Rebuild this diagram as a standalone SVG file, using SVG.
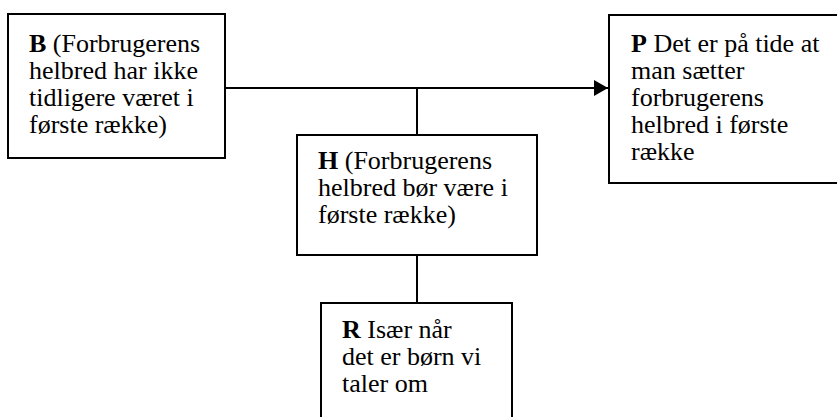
<svg xmlns="http://www.w3.org/2000/svg" width="837" height="417" viewBox="0 0 837 417">
<style>
.box{fill:#fff;stroke:#000;stroke-width:2}
.t{font-family:"Liberation Serif","Times New Roman",serif;font-size:26px;fill:#000}
.b{font-weight:bold}
.c{stroke:#000;stroke-width:2;fill:none}
</style>
<defs>
<marker id="arr" markerWidth="14" markerHeight="16" refX="14" refY="8" orient="auto" markerUnits="userSpaceOnUse">
<path d="M0,0 L14,8 L0,16 Z" fill="#000"/>
</marker>
</defs>
<rect width="837" height="417" fill="#fff"/>
<g id="connectors">
<line class="c" x1="225" y1="88" x2="608" y2="88" marker-end="url(#arr)"/>
<line class="c" x1="417" y1="88" x2="417" y2="135"/>
<line class="c" x1="417" y1="255" x2="417" y2="303"/>
</g>
<g id="B">
<rect class="box" x="8" y="14" width="217" height="144"/>
<text class="t" x="29"><tspan x="29" y="52"><tspan class="b">B</tspan> (Forbrugerens</tspan><tspan x="29" y="79">helbred har ikke</tspan><tspan x="29" y="106">tidligere været i</tspan><tspan x="29" y="133">første række)</tspan></text>
</g>
<g id="P">
<rect class="box" x="609" y="15" width="240" height="168"/>
<text class="t"><tspan x="631" y="52"><tspan class="b">P</tspan> Det er på tide at</tspan><tspan x="631" y="79">man sætter</tspan><tspan x="631" y="106">forbrugerens</tspan><tspan x="631" y="133">helbred i første</tspan><tspan x="631" y="160">række</tspan></text>
</g>
<g id="H">
<rect class="box" x="297" y="135" width="240" height="120"/>
<text class="t"><tspan x="318" y="169"><tspan class="b">H</tspan> (Forbrugerens</tspan><tspan x="318" y="196">helbred bør være i</tspan><tspan x="318" y="223">første række)</tspan></text>
</g>
<g id="R">
<rect class="box" x="321" y="303" width="191" height="130"/>
<text class="t"><tspan x="342" y="338"><tspan class="b">R</tspan> Især når</tspan><tspan x="342" y="365">det er børn vi</tspan><tspan x="342" y="392">taler om</tspan></text>
</g>
</svg>
